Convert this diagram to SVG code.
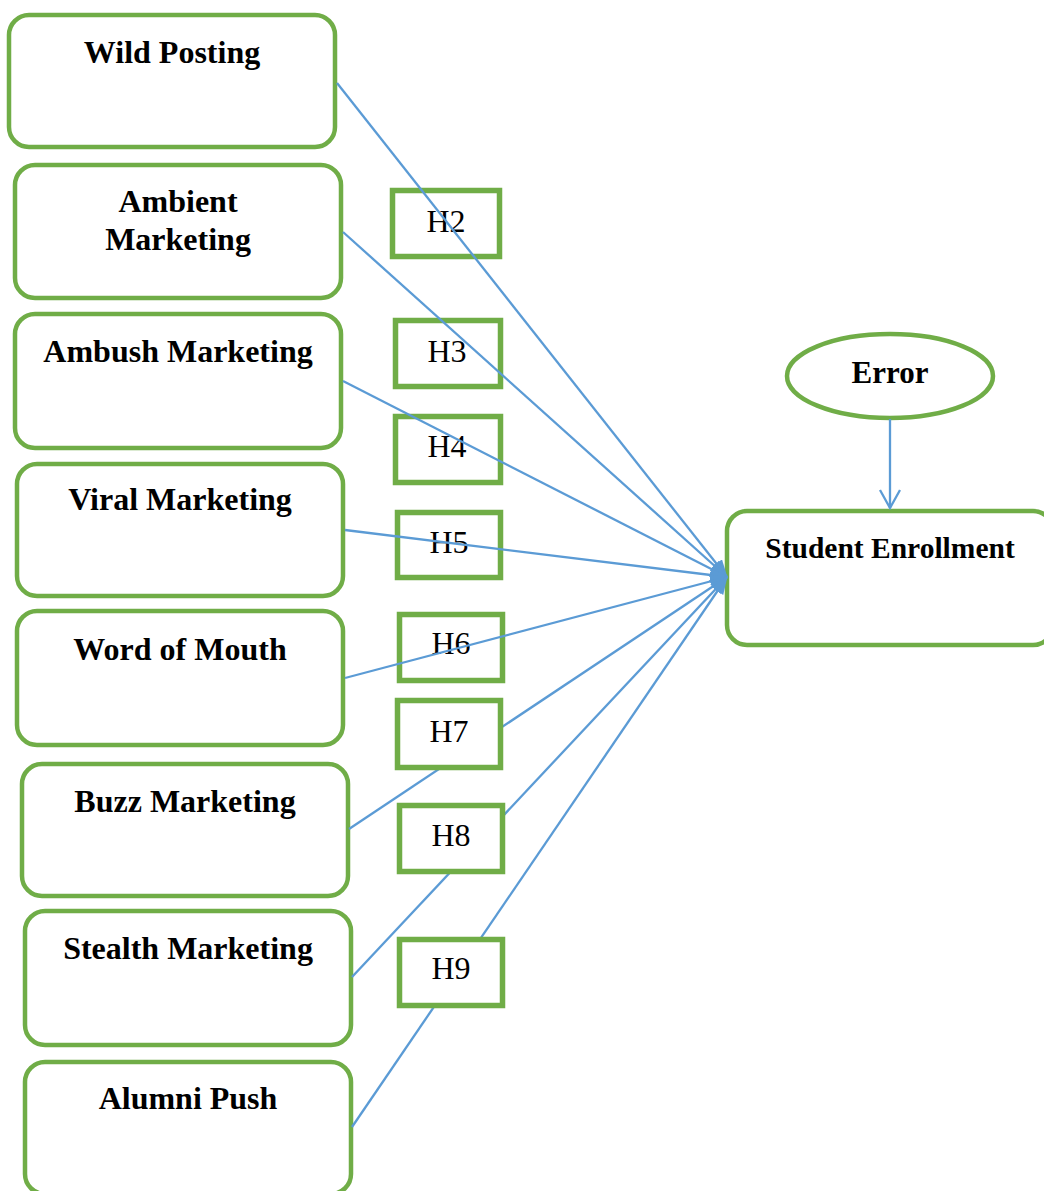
<svg xmlns="http://www.w3.org/2000/svg" width="1044" height="1191" viewBox="0 0 1044 1191">
  <defs>
    <style>
      .node { fill: #ffffff; stroke: #70AD47; stroke-width: 4.5; }
      .hyp { fill: #ffffff; stroke: #70AD47; stroke-width: 5.5; }
      .lbl { font-family: "Liberation Serif", "Times New Roman", serif; font-weight: bold; font-size: 32px; fill: #000000; text-anchor: middle; }
      .hl { font-family: "Liberation Serif", "Times New Roman", serif; font-size: 32px; fill: #000000; text-anchor: middle; }
      .edge { stroke: #5B9BD5; stroke-width: 2.3; fill: none; }
    </style>
    <marker id="arrowFill" markerUnits="userSpaceOnUse" markerWidth="18" markerHeight="14" refX="17" refY="7" orient="auto">
      <path d="M0,0 L18,7 L0,14 Z" fill="#5B9BD5"/>
    </marker>
    <marker id="arrowOpen" markerUnits="userSpaceOnUse" markerWidth="24" markerHeight="24" refX="20" refY="12" orient="auto">
      <path d="M2,2 L20,12 L2,22" fill="none" stroke="#5B9BD5" stroke-width="2.3"/>
    </marker>
  </defs>

  <rect width="1044" height="1191" fill="#ffffff"/>

  <!-- predictor nodes -->
  <g id="node-wild-posting">
    <rect class="node" x="9" y="15" width="326" height="132" rx="20"/>
    <text class="lbl" x="172" y="63">Wild Posting</text>
  </g>
  <g id="node-ambient-marketing">
    <rect class="node" x="15" y="165" width="326" height="133" rx="20"/>
    <text class="lbl" x="178" y="212">Ambient</text>
    <text class="lbl" x="178" y="250">Marketing</text>
  </g>
  <g id="node-ambush-marketing">
    <rect class="node" x="15" y="314" width="326" height="134" rx="20"/>
    <text class="lbl" x="178" y="362">Ambush Marketing</text>
  </g>
  <g id="node-viral-marketing">
    <rect class="node" x="17" y="464" width="326" height="132" rx="20"/>
    <text class="lbl" x="180" y="510">Viral Marketing</text>
  </g>
  <g id="node-word-of-mouth">
    <rect class="node" x="17" y="611" width="326" height="134" rx="20"/>
    <text class="lbl" x="180" y="660">Word of Mouth</text>
  </g>
  <g id="node-buzz-marketing">
    <rect class="node" x="22" y="764" width="326" height="132" rx="20"/>
    <text class="lbl" x="185" y="812">Buzz Marketing</text>
  </g>
  <g id="node-stealth-marketing">
    <rect class="node" x="25" y="911" width="326" height="134" rx="20"/>
    <text class="lbl" x="188" y="959">Stealth Marketing</text>
  </g>
  <g id="node-alumni-push">
    <rect class="node" x="25" y="1062" width="326" height="132" rx="20"/>
    <text class="lbl" x="188" y="1109">Alumni Push</text>
  </g>

  <!-- outcome and error term -->
  <g id="node-student-enrollment">
    <rect class="node" x="727" y="511" width="326" height="134" rx="20"/>
    <text class="lbl" x="890" y="558" style="font-size:29.5px">Student Enrollment</text>
  </g>
  <g id="node-error">
    <ellipse class="node" cx="890" cy="376" rx="103" ry="42"/>
    <text class="lbl" x="890" y="383" style="font-size:31px">Error</text>
  </g>

  <!-- hypothesis labels that the paths cross over -->
  <g id="hyp-h2">
    <rect class="hyp" x="392.5" y="190.5" width="107" height="66"/>
    <text class="hl" x="446" y="232">H2</text>
  </g>
  <g id="hyp-h3">
    <rect class="hyp" x="395.5" y="320.5" width="105" height="66"/>
    <text class="hl" x="447" y="362">H3</text>
  </g>
  <g id="hyp-h4">
    <rect class="hyp" x="395.5" y="416.5" width="105" height="66"/>
    <text class="hl" x="447" y="457">H4</text>
  </g>
  <g id="hyp-h5">
    <rect class="hyp" x="397.5" y="512.5" width="103" height="65"/>
    <text class="hl" x="449" y="553">H5</text>
  </g>
  <g id="hyp-h6">
    <rect class="hyp" x="399.5" y="614.5" width="103" height="66"/>
    <text class="hl" x="451" y="654">H6</text>
  </g>

  <!-- paths -->
  <g id="connectors">
    <line class="edge" x1="337" y1="83" x2="727" y2="577" marker-end="url(#arrowFill)"/>
    <line class="edge" x1="343" y1="232" x2="727" y2="577" marker-end="url(#arrowFill)"/>
    <line class="edge" x1="343" y1="381" x2="727" y2="577" marker-end="url(#arrowFill)"/>
    <line class="edge" x1="345" y1="530" x2="727" y2="577" marker-end="url(#arrowFill)"/>
    <line class="edge" x1="345" y1="678" x2="727" y2="577" marker-end="url(#arrowFill)"/>
    <line class="edge" x1="349" y1="829" x2="727" y2="577" marker-end="url(#arrowFill)"/>
    <line class="edge" x1="352" y1="977" x2="727" y2="577" marker-end="url(#arrowFill)"/>
    <line class="edge" x1="352" y1="1127" x2="727" y2="577" marker-end="url(#arrowFill)"/>
    <line class="edge" x1="890" y1="419" x2="890" y2="508" marker-end="url(#arrowOpen)"/>
  </g>

  <!-- hypothesis labels drawn over their paths -->
  <g id="hyp-h7">
    <rect class="hyp" x="397.5" y="700.5" width="103" height="67"/>
    <text class="hl" x="449" y="742">H7</text>
  </g>
  <g id="hyp-h8">
    <rect class="hyp" x="399.5" y="805.5" width="103" height="66"/>
    <text class="hl" x="451" y="846">H8</text>
  </g>
  <g id="hyp-h9">
    <rect class="hyp" x="399.5" y="939.5" width="103" height="66"/>
    <text class="hl" x="451" y="979">H9</text>
  </g>
</svg>
